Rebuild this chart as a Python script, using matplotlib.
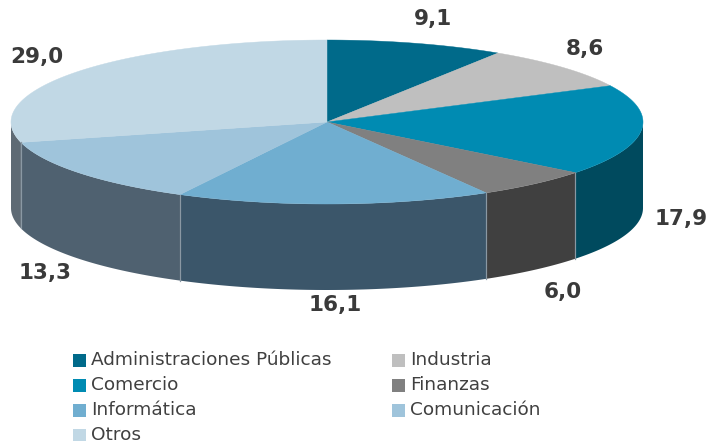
import numpy as np
import matplotlib.pyplot as plt
from matplotlib.patches import Polygon

categories = ["Administraciones Públicas", "Industria", "Comercio", "Finanzas",
              "Informática", "Comunicación", "Otros"]
values = [9.1, 8.6, 17.9, 6.0, 16.1, 13.3, 29.0]
labels = ["9,1", "8,6", "17,9", "6,0", "16,1", "13,3", "29,0"]
top_colors = ["#006a8a", "#bfbfbf", "#008bb2", "#808080", "#70aed0", "#9fc4db", "#c1d8e5"]
side_colors = ["#004a5e", "#8c8c8c", "#004a5e", "#404040", "#3b566a", "#4f6170", "#5e6a74"]

# ellipse geometry in pixel units
cx, cy, a, b, depth = 327, 122, 316, 82, 86
label_pos = [(433, 19), (585, 49), (681, 219), (563, 292), (335, 305), (45, 273), (37, 57)]

fig = plt.figure(figsize=(7.09, 4.41), dpi=100)
ax = fig.add_axes([0, 0, 1, 1])
ax.set_xlim(0, 709)
ax.set_ylim(441, 0)
ax.axis("off")


def pt(t, dy=0):
    r = np.radians(t)
    return cx + a * np.sin(r), cy - b * np.cos(r) + dy


bounds = np.concatenate([[0], np.cumsum(values)]) / sum(values) * 360

# front sides
for i in range(len(values)):
    t0, t1 = max(bounds[i], 90), min(bounds[i + 1], 270)
    if t1 <= t0:
        continue
    ts = np.linspace(t0, t1, 80)
    xs, ys = pt(ts)
    xb, yb = pt(ts[::-1], depth)
    poly = np.column_stack([np.concatenate([xs, xb]), np.concatenate([ys, yb])])
    ax.add_patch(Polygon(poly, closed=True, fc=side_colors[i], ec="none"))
    for t in (t0, t1):
        if 90 < t < 270:
            x0, y0 = pt(t)
            ax.plot([x0, x0], [y0, y0 + depth], color="#8a98a3", lw=0.8)

# top wedges
for i in range(len(values)):
    ts = np.linspace(bounds[i], bounds[i + 1], 120)
    xs, ys = pt(ts)
    poly = np.column_stack([np.concatenate([[cx], xs]), np.concatenate([[cy], ys])])
    ax.add_patch(Polygon(poly, closed=True, fc=top_colors[i], ec=top_colors[i], lw=0.3))

for lab, (x, y) in zip(labels, label_pos):
    ax.text(x, y, lab, ha="center", va="center", fontsize=15.5, fontweight="bold",
            color="#3a3a3a", family="DejaVu Sans")

# legend, two columns, row-major order
for i, name in enumerate(categories):
    row, col = divmod(i, 2)
    x = 73 if col == 0 else 392
    y = 360 + row * 25
    ax.add_patch(Polygon([(x, y - 6), (x + 13, y - 6), (x + 13, y + 7), (x, y + 7)],
                         closed=True, fc=top_colors[i], ec="none"))
    ax.text(x + 18, y, name, ha="left", va="center", fontsize=13.3,
            color="#404040", family="DejaVu Sans")

fig.savefig("out.png", dpi=100)
